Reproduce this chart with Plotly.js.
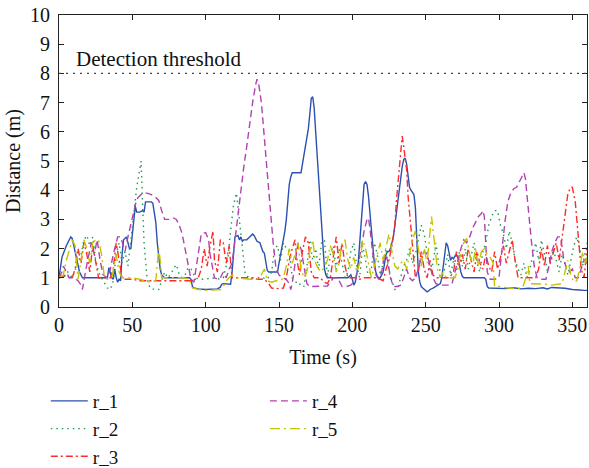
<!DOCTYPE html>
<html>
<head>
<meta charset="utf-8">
<script src="https://cdn.plot.ly/plotly-3.0.1.min.js"></script>
<style>html,body{margin:0;padding:0;background:#fff;}#chart{width:589px;height:468px;}</style>
</head>
<body>
<div id="chart"></div>
<script>
// ---- data ----
const seriesNames = ["r_1", "r_2", "r_3", "r_4", "r_5"];
const threshold = 8;
const thresholdLabel = "Detection threshold";
const xTicks = [0, 50, 100, 150, 200, 250, 300, 350];
const yTicks = [0, 1, 2, 3, 4, 5, 6, 7, 8, 9, 10];

const t1 = [0,2,5,8,9,11,14,16,20,30,33,34,35,36,37,38,39,40,41,42,43,44,46,47,48,49,50,51,52,53,55,57,58,59,61,63,64,65,66,67,68,69,70,72,80,89,90,91,92,95,100,105,108,110,111,112,114,117,118,119,120,122,123,124,125,126,128,130,132,133,134,135,137,138,139,140,141,142,143,145,148,149,150,152,154,155,156,157,158,159,161,163,165,166,167,168,169,170,171,172,173,174,175,176,177,178,179,180,181,182,183,190,197,198,199,200,201,202,203,204,205,206,207,208,209,210,211,212,213,214,215,216,217,218,219,220,221,222,223,224,225,226,227,228,229,230,231,232,233,234,235,236,237,238,239,240,241,242,243,244,245,246,247,248,249,250,251,252,253,255,257,259,260,261,262,263,264,265,266,267,268,269,270,271,272,273,274,275,276,280,285,290,291,292,293,300,305,310,315,320,325,330,333,336,340,342,345,350,353,355,358,360];
const r1 = [1.0,1.7,2.1,2.4,2.35,1.9,1.2,1.0,1.0,1.0,1.0,1.35,1.2,1.0,0.95,1.3,1.0,0.85,0.95,0.9,1.8,2.3,2.4,2.2,2.0,2.0,2.5,3.2,3.45,3.25,3.25,3.3,3.25,3.6,3.6,3.6,3.55,3.2,2.9,2.2,1.6,1.3,1.1,1.0,1.0,1.0,0.95,0.7,0.65,0.62,0.6,0.6,0.62,0.68,0.78,0.8,0.8,0.78,1.2,2.0,2.4,2.45,2.3,2.4,2.25,2.3,2.3,2.4,2.5,2.45,2.35,2.25,2.2,2.0,1.9,1.85,1.5,1.25,1.2,1.2,1.2,1.2,1.5,2.0,2.6,3.0,3.6,4.2,4.45,4.6,4.6,4.6,4.6,4.9,5.3,5.5,5.8,6.1,6.6,7.15,7.2,6.8,6.0,5.2,4.2,3.3,2.5,1.8,1.3,1.1,1.0,1.0,1.0,1.05,1.1,0.95,0.75,0.85,1.1,1.5,2.2,3.0,3.7,4.2,4.3,4.2,3.8,3.2,2.5,1.9,1.5,1.2,1.05,1.0,1.0,1.1,1.2,1.5,1.8,1.9,1.9,2.0,2.2,2.4,2.8,3.2,3.6,4.2,4.6,4.8,5.05,5.1,4.9,4.5,4.1,4.0,3.9,3.85,3.4,2.2,1.2,0.85,0.7,0.65,0.6,0.55,0.52,0.55,0.6,0.65,0.7,0.75,0.8,1.0,1.4,1.9,2.2,2.1,1.8,1.6,1.7,1.65,1.75,1.8,1.7,1.4,1.2,1.05,1.0,1.0,1.0,1.0,0.95,0.7,0.65,0.65,0.63,0.66,0.62,0.64,0.63,0.66,0.62,0.67,0.66,0.63,0.64,0.6,0.6,0.58,0.57,0.57];

const t2 = [0,3,6,9,12,15,17,19,21,23,25,27,29,31,33,35,37,39,41,43,45,47,49,51,53,55,56,57,58,60,62,65,68,70,72,74,76,78,80,82,84,86,88,90,93,96,100,104,108,112,115,117,119,121,123,125,127,130,133,136,139,142,145,147,149,151,153,155,157,159,161,163,165,167,169,171,173,175,177,179,181,183,185,187,189,191,193,195,197,199,201,203,205,207,209,211,213,215,217,219,221,223,225,227,229,231,233,235,237,239,241,243,245,247,249,251,253,255,257,259,261,263,265,267,269,271,273,275,277,279,281,283,285,287,289,291,293,295,297,299,301,303,305,307,309,311,313,315,317,319,321,323,325,327,329,331,333,335,337,339,341,343,345,347,349,351,353,355,357,360];
const r2 = [1.0,1.0,1.2,1.0,1.4,1.8,2.3,2.45,2.1,2.4,1.6,1.2,1.0,0.8,0.65,0.6,0.9,1.8,2.2,1.5,1.9,1.4,2.2,3.2,4.1,4.8,5.0,3.5,2.2,1.0,0.65,0.6,0.6,0.9,1.2,1.0,1.1,1.3,1.45,1.1,1.0,1.1,1.35,1.3,1.0,0.95,0.95,1.0,0.95,1.0,1.6,2.6,3.5,3.9,3.0,1.9,1.1,1.0,1.0,1.0,1.0,0.95,1.2,2.0,2.1,1.6,2.2,2.0,1.9,1.0,0.9,0.75,0.8,0.7,1.4,2.3,1.6,2.0,1.3,2.2,2.3,1.0,1.8,2.1,1.3,2.0,1.5,1.0,1.2,1.9,2.2,1.4,1.0,2.1,1.6,1.0,1.3,2.2,1.8,1.1,1.5,2.0,1.2,0.9,0.6,0.65,1.0,1.4,1.6,2.0,1.5,1.8,2.3,2.8,2.5,1.8,1.2,1.5,2.2,1.4,1.0,1.3,1.8,1.1,1.6,1.2,1.9,1.4,2.0,1.3,1.8,2.2,1.5,1.2,1.9,2.2,2.8,3.1,3.3,3.3,2.8,2.5,2.0,2.6,2.2,1.6,1.3,1.1,1.5,1.0,1.3,1.7,2.2,1.6,2.3,1.8,1.2,1.5,2.0,1.6,1.2,1.8,1.4,1.1,1.6,2.1,2.4,2.0,1.4,2.2];

const t3 = [0,3,5,7,9,11,13,15,17,19,21,23,25,27,30,33,35,37,39,41,43,45,50,55,60,65,70,75,80,85,90,93,95,97,99,101,103,105,106,108,110,112,114,116,117,118,120,125,130,135,140,143,145,150,153,155,157,159,161,162,164,166,168,170,172,174,178,181,183,185,187,189,191,193,195,197,200,203,205,208,212,216,219,221,223,225,227,229,230,231,232,233,234,235,236,237,238,239,240,241,242,243,245,247,249,251,253,255,257,260,263,266,269,271,273,275,277,279,281,283,285,287,289,291,293,295,297,299,301,303,305,307,309,311,313,315,318,322,325,327,329,331,333,335,337,339,341,343,345,347,349,350,352,354,356,358,359,360];
const r3 = [1.0,1.05,1.1,1.0,1.0,1.3,2.0,1.5,2.2,1.8,1.2,2.1,1.5,1.0,1.0,1.0,1.0,1.3,2.2,1.6,1.0,0.95,0.95,0.9,0.9,0.9,0.9,0.9,0.9,0.9,0.9,0.95,1.0,1.3,2.0,1.4,2.1,2.6,1.6,1.2,2.3,2.2,1.5,2.1,1.4,1.0,1.0,1.0,1.0,0.95,0.95,0.8,0.65,0.63,0.65,1.0,1.6,2.0,2.3,1.7,1.1,1.9,2.4,2.2,1.2,1.0,1.0,0.85,0.8,1.0,1.7,2.4,1.5,2.2,1.4,1.0,1.0,1.0,0.95,1.0,1.0,1.0,0.95,0.9,1.3,1.6,2.1,2.8,3.6,4.2,4.9,5.5,5.85,5.5,5.1,4.7,3.8,3.2,2.6,2.0,1.5,1.0,1.2,1.9,1.3,1.0,1.6,1.1,1.0,1.0,1.0,1.0,1.2,1.9,1.4,1.8,1.3,2.0,1.6,1.2,1.9,1.5,1.3,1.8,1.4,1.2,1.9,1.3,1.7,2.1,1.5,1.9,2.3,1.6,1.0,1.0,1.0,1.0,1.0,1.3,2.0,1.4,2.1,1.5,1.9,2.2,1.6,2.4,3.2,3.9,4.1,4.1,3.6,2.5,1.3,1.0,1.6,2.0];

const t4 = [0,2,3,5,7,10,13,15,16,18,20,22,24,26,28,30,33,35,37,39,40,42,44,45,47,49,51,53,55,57,60,63,66,68,70,72,75,78,80,82,84,86,88,90,92,94,96,97,100,102,103,105,106,108,110,112,114,116,118,120,122,124,126,128,130,132,134,135,136,138,140,142,144,146,148,150,152,155,157,158,159,161,163,165,167,169,171,176,180,183,185,187,190,193,196,199,202,204,206,208,210,211,212,214,216,218,220,222,224,226,228,231,233,235,237,239,241,243,245,247,249,251,253,255,257,260,263,266,268,270,272,274,276,278,280,282,284,286,288,289,290,291,292,294,297,300,302,304,306,308,310,312,314,316,317,318,320,322,324,326,329,332,334,336,338,340,342,344,346,348,350,352,354,356,358,360];
const r4 = [1.0,1.2,1.4,1.2,1.0,1.0,0.9,0.75,0.6,1.2,1.7,2.2,1.8,2.3,1.6,1.1,1.0,1.3,1.8,2.2,2.4,2.4,2.1,1.9,2.4,2.8,3.3,3.7,3.8,3.9,3.9,3.85,3.75,3.65,3.3,3.0,3.0,3.05,3.0,2.8,2.5,2.0,1.4,0.95,0.85,1.5,2.3,2.5,2.55,2.3,1.8,1.3,1.0,0.95,1.0,1.2,1.0,1.3,1.5,2.3,3.2,4.0,4.8,5.5,6.3,7.0,7.6,7.8,7.7,7.0,5.8,4.5,3.2,2.2,1.3,1.1,1.0,0.95,0.8,0.6,0.8,1.6,2.2,2.0,1.4,0.8,0.7,0.7,0.7,0.72,0.85,1.0,1.0,0.7,0.7,0.75,0.9,1.4,2.0,2.6,3.0,3.05,2.7,1.8,1.1,0.95,1.2,1.8,1.6,1.0,0.7,0.7,0.75,1.0,1.3,1.0,0.9,1.0,1.3,1.7,1.9,1.8,1.4,1.0,0.8,0.75,0.75,0.75,0.8,1.2,1.7,2.0,2.3,2.2,2.4,2.7,2.9,3.1,3.2,3.3,3.1,2.0,1.2,0.95,0.95,1.0,2.0,2.9,3.6,3.9,4.05,4.1,4.3,4.5,4.6,4.4,3.3,2.3,1.4,1.0,0.95,0.95,1.4,1.9,2.2,2.4,2.4,1.7,1.3,1.2,1.3,1.0,1.0,1.3,1.6,1.5];

const t5 = [0,3,5,7,9,11,12,13,15,17,19,21,23,25,27,29,31,33,36,38,39,41,43,46,50,55,58,62,66,67,68,69,70,75,80,85,89,91,95,100,105,110,112,114,116,118,120,125,130,135,138,140,142,145,148,151,153,155,157,159,161,163,165,167,169,171,173,175,177,179,181,183,185,187,189,191,193,195,197,199,201,203,205,207,209,211,213,215,217,219,221,223,225,227,229,231,233,235,237,239,241,243,245,247,249,251,253,254,256,258,260,262,264,266,268,270,272,274,276,278,280,282,284,286,288,290,292,294,296,297,300,303,305,308,312,316,318,320,321,324,328,332,336,340,343,345,347,349,351,353,355,357,359,360];
const r5 = [1.0,1.1,1.6,2.0,2.3,2.1,1.5,0.95,1.6,2.3,2.0,1.5,2.2,2.3,2.3,1.8,1.0,0.95,1.0,1.5,1.8,1.2,1.0,1.0,1.0,0.95,0.9,0.85,0.9,1.4,2.0,1.6,1.0,1.0,1.0,1.0,0.95,0.65,0.6,0.57,0.58,0.6,0.7,0.9,1.0,1.1,1.0,0.97,0.95,0.95,1.1,1.3,0.9,0.85,0.9,0.9,1.0,1.4,2.0,1.5,1.8,2.2,1.3,1.0,1.2,1.9,2.3,1.5,1.3,1.2,1.4,1.6,2.1,1.8,1.2,1.5,2.2,2.3,1.6,1.3,1.7,1.2,1.5,2.3,2.0,1.5,1.0,1.4,1.8,2.2,1.6,2.0,2.5,1.9,1.4,1.3,1.5,1.6,1.3,1.8,2.3,2.6,2.0,1.4,2.0,1.5,2.6,3.1,2.2,1.3,1.0,1.2,1.0,1.0,1.0,1.0,1.3,1.9,2.2,2.35,1.8,1.4,2.0,1.4,1.9,2.0,1.8,1.7,1.5,0.7,0.7,0.68,0.65,0.64,0.64,0.65,0.95,1.4,0.8,0.8,0.8,0.78,0.75,0.78,0.8,1.2,1.6,1.1,0.85,0.9,1.3,1.9,1.5,1.7];

const times = [t1, t2, t3, t4, t5];
const values = [r1, r2, r3, r4, r5];
const colors = ["#2b50b0", "#1f9a55", "#ff2a2a", "#b043b0", "#c4c400"];
const dashes = ["solid", "1.5px,4px", "7px,3px,2px,3px", "7px,4px", "10px,4px,2px,4px"];

const FONT = "Liberation Serif, Times New Roman, serif";

const traces = seriesNames.map((name, i) => ({
  type: "scatter",
  mode: "lines",
  name: name,
  x: times[i],
  y: values[i],
  line: { color: colors[i], width: 1.4, dash: dashes[i] },
  legend: i < 3 ? "legend" : "legend2",
  legendgroup: name,
  hoverinfo: "skip"
}));

const axisCommon = {
  showline: true,
  linecolor: "#222",
  linewidth: 1,
  mirror: "ticks",
  ticks: "inside",
  ticklen: 5,
  tickcolor: "#222",
  showgrid: false,
  zeroline: false,
  automargin: false,
  tickfont: { family: FONT, size: 20, color: "#111" }
};

const legendCommon = {
  yanchor: "top", xanchor: "left", orientation: "v",
  tracegroupgap: 0, itemwidth: 37, maxheight: 300,
  font: { family: FONT, size: 19, color: "#111" },
  bgcolor: "rgba(0,0,0,0)"
};

const layout = {
  width: 589,
  height: 468,
  margin: { l: 59, r: 2, t: 15, b: 161, autoexpand: false },
  paper_bgcolor: "#fff",
  plot_bgcolor: "#fff",
  font: { family: FONT, color: "#111" },
  xaxis: Object.assign({}, axisCommon, {
    range: [0, 360],
    tickvals: xTicks,
    ticktext: xTicks.map(String),
    title: { text: "Time (s)", font: { family: FONT, size: 20 }, standoff: 14 }
  }),
  yaxis: Object.assign({}, axisCommon, {
    range: [0, 10],
    tickvals: yTicks,
    ticktext: yTicks.map(String),
    ticklabelstandoff: 4,
    title: { text: "Distance (m)", font: { family: FONT, size: 20 }, standoff: 4 }
  }),
  shapes: [{
    type: "line", xref: "paper", x0: 0, x1: 1, yref: "y", y0: threshold, y1: threshold,
    line: { color: "#444", width: 1.3, dash: "2px,5px" }
  }],
  annotations: [{
    text: thresholdLabel, xref: "x", yref: "y", x: 10.5, y: threshold,
    xanchor: "left", yanchor: "bottom", showarrow: false,
    font: { family: FONT, size: 21, color: "#111" }
  }],
  showlegend: true,
  legend: Object.assign({}, legendCommon, { x: -0.025, y: -0.257 }),
  legend2: Object.assign({}, legendCommon, { x: 0.39, y: -0.257 })
};

Plotly.newPlot("chart", traces, layout, { staticPlot: true, displayModeBar: false });
</script>
</body>
</html>
